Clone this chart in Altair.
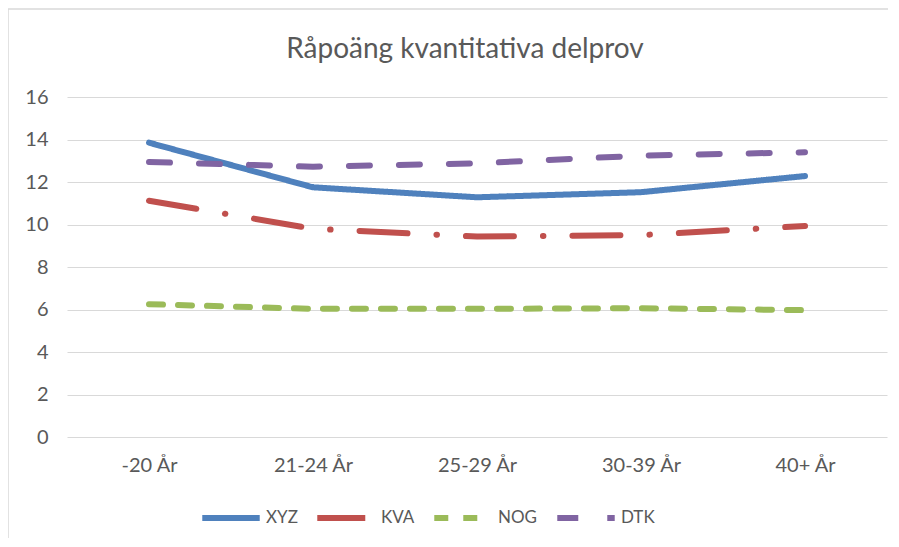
import altair as alt
import pandas as pd

categories = ["-20 År", "21-24 År", "25-29 År", "30-39 År", "40+ År"]
series = ["XYZ", "KVA", "NOG", "DTK"]
xyz = [13.85, 11.75, 11.28, 11.52, 12.28]
kva = [11.12, 9.8, 9.43, 9.5, 9.93]
nog = [6.25, 6.03, 6.03, 6.06, 5.97]
dtk = [12.94, 12.72, 12.88, 13.24, 13.4]
title_text = ["Råpoäng kvantitativa delprov"]

colors = ["#4F81BD", "#C0504D", "#9BBB59", "#8064A2"]
dashes = [[1, 0], [48, 29, 0.5, 29], [14, 15], [21, 29]]

rows = []
for name, vals in zip(series, [xyz, kva, nog, dtk]):
    for c, v in zip(categories, vals):
        rows.append({"Ålder": c, "Serie": name, "Poäng": v})
df = pd.DataFrame(rows)

font = "Lato"
grey = "#595959"

frame = alt.Chart(pd.DataFrame({"a": [0]})).mark_rect(
    fillOpacity=0, stroke="#d9d9d9", strokeWidth=1.5, clip=False
).encode(
    x=alt.value(-59), x2=alt.value(838), y=alt.value(-88), y2=alt.value(458)
)

title = alt.Chart(pd.DataFrame({"t": title_text})).mark_text(
    font=font, fontSize=28, color=grey, align="center", baseline="alphabetic", clip=False
).encode(text="t:N", x=alt.value(398), y=alt.value(-39))

lines = alt.Chart(df).mark_line(strokeWidth=6, strokeCap="round", strokeJoin="round").encode(
    x=alt.X("Ålder:N", sort=categories, title=None,
            scale=alt.Scale(paddingInner=1, paddingOuter=0.5),
            axis=alt.Axis(labelAngle=0, domain=False, ticks=False, grid=False,
                          labelPadding=18)),
    y=alt.Y("Poäng:Q", title=None,
            scale=alt.Scale(domain=[0, 16]),
            axis=alt.Axis(values=list(range(0, 17, 2)), domain=False, ticks=False,
                          grid=True, gridColor="#d9d9d9", gridWidth=1.2,
                          labelPadding=19)),
    color=alt.Color("Serie:N", sort=series, title=None,
                    scale=alt.Scale(domain=series, range=colors),
                    legend=alt.Legend(orient="none", legendX=132, legendY=389,
                                      direction="horizontal", symbolType="stroke",
                                      symbolSize=3300, symbolStrokeWidth=6,
                                      labelOffset=3, columnPadding=7)),
    strokeDash=alt.StrokeDash("Serie:N", sort=series, title=None,
                              scale=alt.Scale(domain=series, range=dashes)),
    order=alt.Order("Serie:N"),
)

chart = alt.layer(frame, title, lines).properties(
    width=820, height=340,
    autosize=alt.AutoSizeParams(type="none"),
    padding={"left": 59, "top": 89, "right": 1, "bottom": 101},
).configure_view(stroke=None).configure_axis(
    labelFont=font, labelFontSize=20, labelColor=grey
).configure_legend(
    labelFont=font, labelFontSize=17, labelColor=grey, symbolStrokeWidth=6
)

chart.save("out.html", embed_options={"renderer": "svg", "actions": False})
